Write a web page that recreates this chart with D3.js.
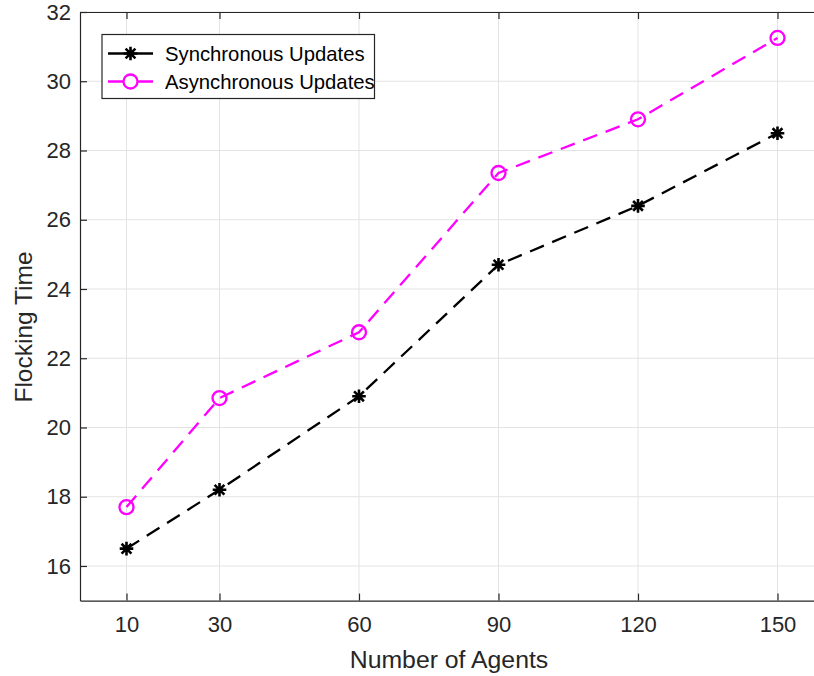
<!DOCTYPE html>
<html>
<head>
<meta charset="utf-8">
<script src="https://cdn.jsdelivr.net/npm/d3@7"></script>
<style>
  html, body { margin: 0; padding: 0; background: #fff; }
  svg { display: block; font-family: "Liberation Sans", Arial, Helvetica, sans-serif; }
</style>
</head>
<body>
<svg id="chart" width="814" height="676"></svg>
<script>
// Number of agents on the x axis
const agents = [10, 30, 60, 90, 120, 150];
// Flocking time for each update scheme
const syncTimes = [16.5, 18.2, 20.9, 24.7, 26.4, 28.5];
const asyncTimes = [17.7, 20.85, 22.75, 27.35, 28.9, 31.25];
// Tick labels
const xTicks = [10, 30, 60, 90, 120, 150];
const yTicks = [16, 18, 20, 22, 24, 26, 28, 30, 32];
const seriesNames = ["Synchronous Updates", "Asynchronous Updates"];

const svg = d3.select("#chart");
const plotLeft = 80, plotRight = 824, plotTop = 12, plotBottom = 600.6;
const axisColor = "#262626";

const x = d3.scaleLinear().domain([0, 160]).range([plotLeft, plotRight]);
const y = d3.scaleLinear().domain([15, 32]).range([plotBottom, plotTop]);

// grid
const grid = svg.append("g");
grid.selectAll("line.gx").data(xTicks).enter().append("line")
  .attr("x1", d => x(d)).attr("x2", d => x(d))
  .attr("y1", plotTop).attr("y2", plotBottom)
  .attr("stroke", "#e3e3e3").attr("stroke-width", 1);
grid.selectAll("line.gy").data(yTicks).enter().append("line")
  .attr("x1", plotLeft).attr("x2", plotRight)
  .attr("y1", d => y(d)).attr("y2", d => y(d))
  .attr("stroke", "#e3e3e3").attr("stroke-width", 1);

// axes (ticks pointing inward)
const tickLen = 7;
const xAxis = d3.axisBottom(x).tickValues(xTicks).tickSizeInner(-tickLen).tickSizeOuter(0).tickPadding(16);
const gx = svg.append("g").attr("transform", `translate(0,${plotBottom})`).call(xAxis);
const xTop = d3.axisTop(x).tickValues(xTicks).tickSizeInner(-tickLen).tickSizeOuter(0).tickFormat("");
const gxt = svg.append("g").attr("transform", `translate(0,${plotTop})`).call(xTop);
const yAxis = d3.axisLeft(y).tickValues(yTicks).tickSizeInner(-tickLen).tickSizeOuter(0).tickPadding(9);
const gy = svg.append("g").attr("transform", `translate(${plotLeft},0)`).call(yAxis);

[gx, gxt, gy].forEach(g => {
  g.select(".domain").attr("stroke", axisColor).attr("stroke-width", 1.2);
  g.selectAll(".tick line").attr("stroke", axisColor).attr("stroke-width", 1.2);
  g.selectAll(".tick text").attr("fill", axisColor)
    .attr("font-size", "22px").attr("font-family", "Liberation Sans, Arial, sans-serif");
});
gx.selectAll(".tick text").attr("dy", "0.71em");

// axis labels
svg.append("text")
  .attr("x", 449).attr("y", 668)
  .attr("text-anchor", "middle").attr("fill", axisColor)
  .attr("font-size", "24.8px").text("Number of Agents");
svg.append("text")
  .attr("transform", "translate(32,327) rotate(-90)")
  .attr("text-anchor", "middle").attr("fill", axisColor)
  .attr("font-size", "24.5px").text("Flocking Time");

// lines
const line = d3.line().x(d => x(d[0])).y(d => y(d[1]));
const syncData = agents.map((a, i) => [a, syncTimes[i]]);
const asyncData = agents.map((a, i) => [a, asyncTimes[i]]);

svg.append("path").datum(syncData).attr("d", line)
  .attr("fill", "none").attr("stroke", "#000").attr("stroke-width", 2.3)
  .attr("stroke-dasharray", "15,9");
svg.append("path").datum(asyncData).attr("d", line)
  .attr("fill", "none").attr("stroke", "#ff00ff").attr("stroke-width", 2.3)
  .attr("stroke-dasharray", "15,9");

// markers
function asterisk(g, cx, cy, r) {
  const d = r * 0.72;
  g.append("path")
    .attr("d", `M${cx - r},${cy}L${cx + r},${cy}M${cx},${cy - r}L${cx},${cy + r}` +
               `M${cx - d},${cy - d}L${cx + d},${cy + d}M${cx - d},${cy + d}L${cx + d},${cy - d}`)
    .attr("stroke", "#000").attr("stroke-width", 2.6).attr("fill", "none");
}
const mk = svg.append("g");
syncData.forEach(d => asterisk(mk, x(d[0]), y(d[1]), 6.8));
mk.selectAll("circle").data(asyncData).enter().append("circle")
  .attr("cx", d => x(d[0])).attr("cy", d => y(d[1])).attr("r", 7)
  .attr("fill", "none").attr("stroke", "#ff00ff").attr("stroke-width", 2.3);

// legend
const lg = svg.append("g");
lg.append("rect").attr("x", 102).attr("y", 34.5).attr("width", 272.5).attr("height", 64)
  .attr("fill", "#fff").attr("stroke", axisColor).attr("stroke-width", 1.2);
const rows = [53.5, 81.5];
lg.append("line").attr("x1", 108).attr("x2", 153).attr("y1", rows[0]).attr("y2", rows[0])
  .attr("stroke", "#000").attr("stroke-width", 2.3);
asterisk(lg, 130.5, rows[0], 6.8);
lg.append("line").attr("x1", 108).attr("x2", 153).attr("y1", rows[1]).attr("y2", rows[1])
  .attr("stroke", "#ff00ff").attr("stroke-width", 2.3);
lg.append("circle").attr("cx", 130.5).attr("cy", rows[1]).attr("r", 7)
  .attr("fill", "#fff").attr("stroke", "#ff00ff").attr("stroke-width", 2.3);
seriesNames.forEach((n, i) => {
  lg.append("text").attr("x", 165).attr("y", rows[i]).attr("dy", "0.36em")
    .attr("font-size", "20.3px").attr("fill", "#000").text(n);
});
</script>
</body>
</html>
